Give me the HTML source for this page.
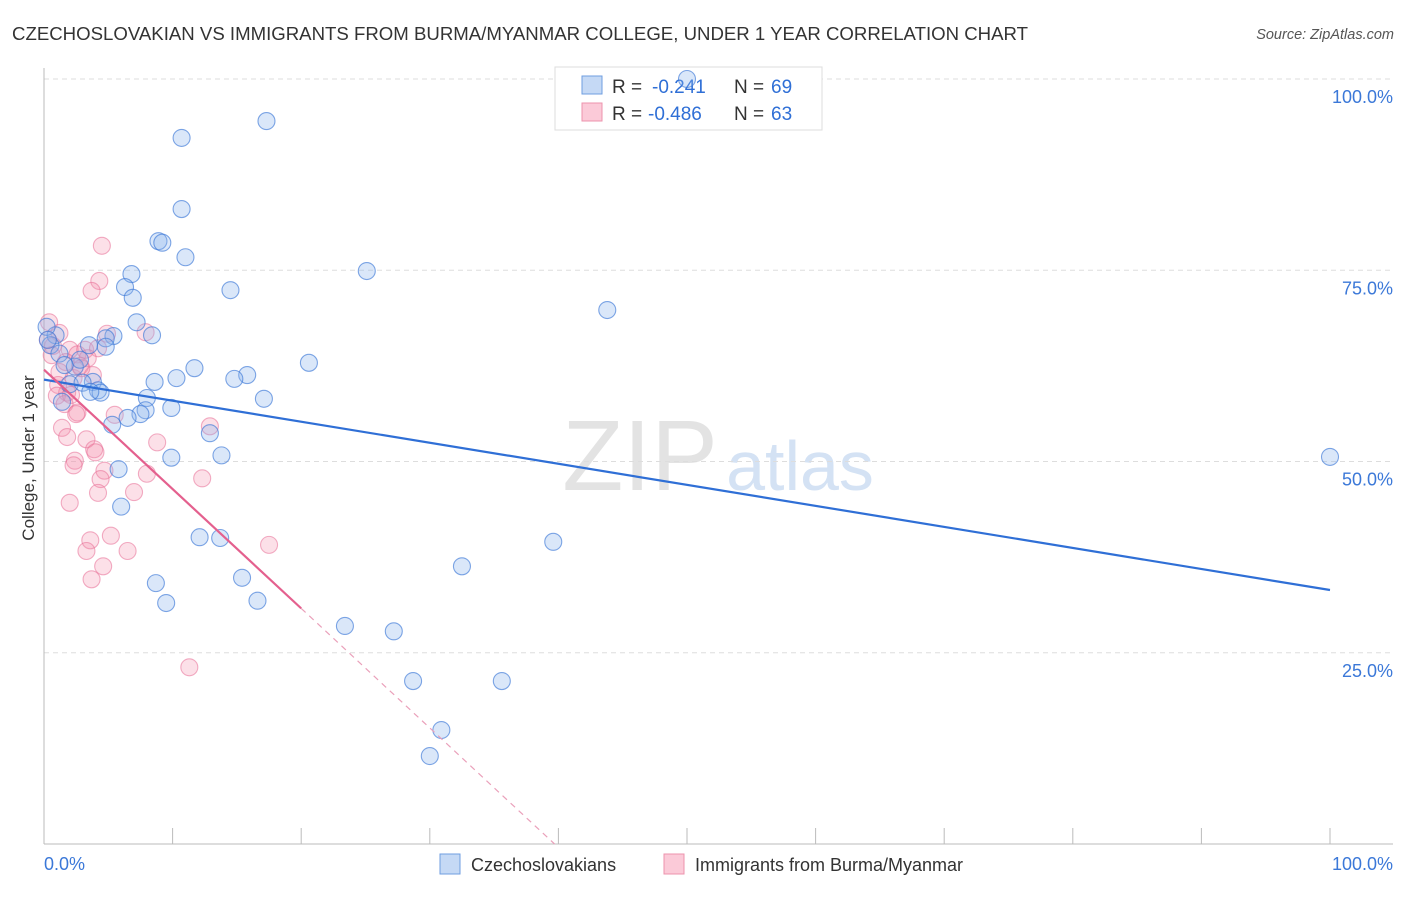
<!DOCTYPE html>
<html><head><meta charset="utf-8"><style>
body{margin:0;background:#fff;font-family:"Liberation Sans",sans-serif;}
svg text{font-family:"Liberation Sans",sans-serif;}
</style></head><body>
<svg id="chart" width="1406" height="892">
<text x="12" y="40" font-size="18.5" fill="#333" textLength="1016" lengthAdjust="spacingAndGlyphs">CZECHOSLOVAKIAN VS IMMIGRANTS FROM BURMA/MYANMAR COLLEGE, UNDER 1 YEAR CORRELATION CHART</text>
<text x="1394" y="39" font-size="14.5" fill="#555" font-style="italic" text-anchor="end">Source: ZipAtlas.com</text>
<text x="640" y="490" font-size="100" fill="#e3e3e3" font-family="Liberation Serif" text-anchor="middle">ZIP</text>
<text x="800" y="490" font-size="70" fill="#d4e2f4" text-anchor="middle">atlas</text>
<text transform="translate(34,458) rotate(-90)" font-size="17" fill="#333" text-anchor="middle">College, Under 1 year</text>
<g id="grid"></g>
<g>
<rect x="555" y="67" width="267" height="63" fill="#fff" stroke="#ddd"/>
<rect x="582" y="76" width="20" height="18" fill="#c5d9f5" stroke="#6f9ee0"/>
<rect x="582" y="103" width="20" height="18" fill="#fbcad8" stroke="#ec93ad"/>
<text x="612" y="93" font-size="19" fill="#333">R =</text>
<text x="652" y="93" font-size="19" fill="#2f6fd6">-0.241</text>
<text x="734" y="93" font-size="19" fill="#333">N =</text>
<text x="771" y="93" font-size="19" fill="#2f6fd6">69</text>
<text x="612" y="120" font-size="19" fill="#333">R =</text>
<text x="648" y="120" font-size="19" fill="#2f6fd6">-0.486</text>
<text x="734" y="120" font-size="19" fill="#333">N =</text>
<text x="771" y="120" font-size="19" fill="#2f6fd6">63</text>
</g>
<g id="pts"></g><g id="trend"></g>
<g>
<rect x="440" y="854" width="20" height="20" fill="#c5d9f5" stroke="#6f9ee0"/>
<text x="471" y="871" font-size="18" fill="#333">Czechoslovakians</text>
<rect x="664" y="854" width="20" height="20" fill="#fbcad8" stroke="#ec93ad"/>
<text x="695" y="871" font-size="18" fill="#333">Immigrants from Burma/Myanmar</text>
</g>
</svg>
<script>
const blueX=[50,17.3,10.7,10.7,8.9,9.2,11.0,25.1,6.8,6.3,14.5,6.9,43.8,7.2,8.4,5.4,4.8,0.9,0.5,3.5,4.8,1.2,20.6,11.7,2.4,2.8,15.8,10.3,14.8,8.6,3.8,2.0,4.2,4.4,8.0,17.1,1.4,9.9,7.9,7.5,6.5,5.3,12.9,13.8,9.9,100,5.8,6.0,39.6,12.1,13.7,32.5,15.4,8.7,16.6,9.5,23.4,27.2,28.7,35.6,30.9,30.0,0.2,0.3,1.6,3.0,3.6];
const blueY=[100,94.5,92.3,83.0,78.8,78.6,76.7,74.9,74.5,72.8,72.4,71.4,69.8,68.2,66.5,66.4,66.1,66.5,65.2,65.2,65.0,64.1,62.9,62.2,62.4,63.3,61.3,60.9,60.8,60.4,60.4,60.1,59.3,59.0,58.3,58.2,57.8,57.0,56.7,56.2,55.7,54.8,53.7,50.8,50.5,50.6,49.0,44.1,39.5,40.1,40.0,36.3,34.8,34.1,31.8,31.5,28.5,27.8,21.3,21.3,14.9,11.5,67.6,65.9,62.6,60.3,59.1];
const pinkX=[4.5,4.3,3.7,0.4,1.2,4.9,7.9,0.3,0.7,2.0,3.2,4.2,2.6,3.4,1.7,2.8,1.2,3.8,2.3,1.1,1.8,1.0,2.1,1.6,2.6,5.5,2.5,1.4,12.9,1.8,3.3,8.8,3.9,4.0,2.4,2.3,4.7,8.0,12.3,4.4,4.2,7.0,2.0,5.2,3.6,17.5,3.3,6.5,4.6,3.7,11.3,0.6,2.9];
const pinkY=[78.2,73.6,72.3,68.2,66.8,66.7,66.9,65.9,65.1,64.6,64.6,64.8,64.0,63.5,63.0,62.5,61.7,61.3,60.9,60.0,59.0,58.6,58.7,57.5,56.4,56.1,56.2,54.4,54.6,53.2,52.9,52.5,51.6,51.2,50.1,49.5,48.8,48.4,47.8,47.7,45.9,46.0,44.6,40.3,39.7,39.1,38.3,38.3,36.3,34.6,23.1,63.9,62.2];
const blueTrendX=[0,100], blueTrendY=[60.7,33.2];
const pinkTrendX=[0,20,39.7], pinkTrendY=[62.0,30.8,0];
const yTicks=[25,50,75,100], yTickLabels=["25.0%","50.0%","75.0%","100.0%"];
const xTicks=[0,10,20,30,40,50,60,70,80,90,100];

const sx=v=>44+v*12.86, sy=v=>844-v*7.65;
const NS="http://www.w3.org/2000/svg";
function mk(tag,attrs,parent){const e=document.createElementNS(NS,tag);for(const k in attrs)e.setAttribute(k,attrs[k]);document.getElementById(parent).appendChild(e);return e;}
yTicks.forEach((t,i)=>{
  const g=mk('line',{x1:44,x2:1393,y1:sy(t),y2:sy(t),stroke:'#ddd','stroke-dasharray':'5,4'},'grid');
  
  
  const l=mk('text',{x:1393,y:sy(t)+24,'font-size':18,fill:'#3b78d8','text-anchor':'end'},'grid');
  l.textContent=yTickLabels[i];
  
  
});
const ax=mk('line',{x1:44,x2:44,y1:68,y2:844,stroke:'#bbb'},'grid');


const bx=mk('line',{x1:44,x2:1393,y1:844,y2:844,stroke:'#bbb'},'grid');


xTicks.forEach(t=>{
  const k=mk('line',{x1:sx(t),x2:sx(t),y1:828,y2:844,stroke:'#bbb'},'grid');
  
  
});
[["0.0%",44,'start'],["100.0%",1393,'end']].forEach(a=>{
  const l=mk('text',{x:a[1],y:870,'font-size':18,fill:'#3b78d8','text-anchor':a[2]},'grid');
  l.textContent=a[0];
  
  
});
pinkX.forEach((x,i)=>{
  const c=mk('circle',{cx:sx(x),cy:sy(pinkY[i]),r:8.5,fill:'rgba(244,143,172,0.28)',stroke:'rgba(232,110,150,0.55)','stroke-width':1.1},'pts');
  
  
});
blueX.forEach((x,i)=>{
  const c=mk('circle',{cx:sx(x),cy:sy(blueY[i]),r:8.5,fill:'rgba(140,180,235,0.32)',stroke:'rgba(60,120,215,0.65)','stroke-width':1.1},'pts');
  
  
});
const bl=mk('line',{x1:sx(blueTrendX[0]),y1:sy(blueTrendY[0]),x2:sx(blueTrendX[1]),y2:sy(blueTrendY[1]),stroke:'#2f6fd6','stroke-width':2.2},'trend');


const pl=mk('line',{x1:sx(pinkTrendX[0]),y1:sy(pinkTrendY[0]),x2:sx(pinkTrendX[1]),y2:sy(pinkTrendY[1]),stroke:'#e4608e','stroke-width':2.2},'trend');


const pd=mk('line',{x1:sx(pinkTrendX[1]),y1:sy(pinkTrendY[1]),x2:sx(pinkTrendX[2]),y2:sy(pinkTrendY[2]),stroke:'#eaa0ba','stroke-width':1.2,'stroke-dasharray':'6,5'},'trend');


</script>
</body></html>
